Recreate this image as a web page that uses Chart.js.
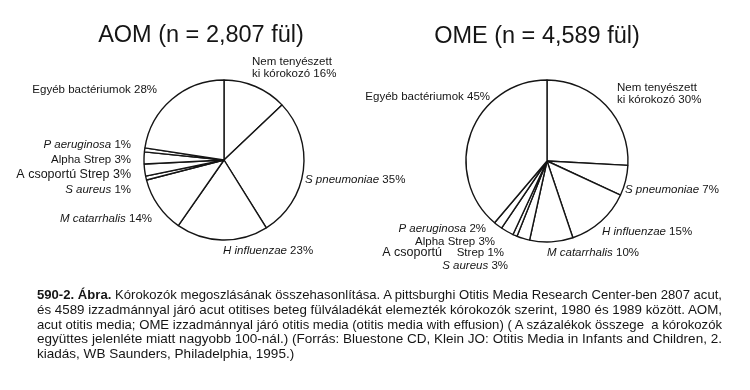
<!DOCTYPE html>
<html><head><meta charset="utf-8">
<script src="https://cdn.jsdelivr.net/npm/chart.js@4/dist/chart.umd.min.js"></script>
<style>
html,body{margin:0;padding:0;background:#fff;}
#wrap{position:relative;width:750px;height:390px;overflow:hidden;background:#fff;}
#wrap canvas{position:absolute;left:0;top:0;}
#caption{position:absolute;left:37px;top:288px;width:685px;font-family:"Liberation Sans",Arial,sans-serif;font-size:13.5px;line-height:14.8px;color:#151515;}
#caption .ln{height:14.8px;white-space:nowrap;}
#caption .ln span{display:inline-block;white-space:nowrap;transform-origin:0 50%;}
</style>
</head><body>
<div id="wrap">
<canvas id="aom" width="750" height="390"></canvas>
<canvas id="ome" width="750" height="390"></canvas>
<div id="caption">
<div class="ln"><span><b>590-2. Ábra.</b> Kórokozók megoszlásának összehasonlítása. A pittsburghi Otitis Media Research Center-ben 2807 acut,</span></div>
<div class="ln"><span>és 4589 izzadmánnyal járó acut otitises beteg fülváladékát elemezték kórokozók szerint, 1980 és 1989 között. AOM,</span></div>
<div class="ln"><span>acut otitis media; OME izzadmánnyal járó otitis media (otitis media with effusion) ( A százalékok összege&nbsp; a kórokozók</span></div>
<div class="ln"><span>együttes jelenléte miatt nagyobb 100-nál.) (Forrás: Bluestone CD, Klein JO: Otitis Media in Infants and Children, 2.</span></div>
<div class="ln last"><span>kiadás, WB Saunders, Philadelphia, 1995.)</span></div>
</div>
</div>
<script>
// ---- data ----
const aomTitle = 'AOM (n = 2,807 fül)';
const omeTitle = 'OME (n = 4,589 fül)';
const categories = ['Nem tenyészett\nki kórokozó', 'S pneumoniae', 'H influenzae', 'M catarrhalis', 'S aureus', 'A csoportú Strep', 'Alpha Strep', 'P aeruginosa', 'Egyéb bactériumok'];
const aomValues = [16, 35, 23, 14, 1, 3, 3, 1, 28];
const omeValues = [30, 7, 15, 10, 3, 1, 3, 2, 45];
const italicNames = ['S pneumoniae', 'H influenzae', 'M catarrhalis', 'S aureus', 'P aeruginosa'];

// ---- layout (positions relative to pie centre) ----
const FONT = '"Liberation Sans", Arial, Helvetica, sans-serif';
const INK = '#151515';
const aomLayout = {
  cx: 224, cy: 160, r: 80,
  title: {dx: -23, dy: -118},
  labels: [
    {dx: 28, dy: -98, align: 'left'},
    {dx: 81, dy: 20, align: 'left'},
    {dx: -1, dy: 91, align: 'left'},
    {dx: -72, dy: 59, align: 'right'},
    {dx: -93, dy: 30, align: 'right'},
    {dx: -93, dy: 14.5, align: 'right', big: true},
    {dx: -93, dy: 0, align: 'right'},
    {dx: -93, dy: -15, align: 'right'},
    {dx: -67, dy: -70, align: 'right'}
  ]
};
const omeLayout = {
  cx: 547, cy: 161, r: 81,
  title: {dx: -10, dy: -118},
  labels: [
    {dx: 70, dy: -73, align: 'left'},
    {dx: 78, dy: 29, align: 'left'},
    {dx: 55, dy: 71, align: 'left'},
    {dx: 0, dy: 92, align: 'left'},
    {dx: -39, dy: 105, align: 'right'},
    {dx: -43, dy: 92, align: 'right', splitX: -105},
    {dx: -52, dy: 81, align: 'right'},
    {dx: -61, dy: 68, align: 'right'},
    {dx: -57, dy: -64, align: 'right'}
  ]
};

function drawParts(ctx, parts, x, y, align) {
  const widths = parts.map(p => { ctx.font = p.font; return ctx.measureText(p.t).width; });
  const total = widths.reduce((a, b) => a + b, 0);
  let sx = align === 'right' ? x - total : x;
  parts.forEach((p, i) => { ctx.font = p.font; ctx.fillText(p.t, sx, y); sx += widths[i]; });
}

const labelPlugin = {
  id: 'pieLabels',
  afterDraw(chart) {
    const o = chart.options.plugins.pieLabels;
    const arc = chart.getDatasetMeta(0).data[0];
    const cx = arc.x, cy = arc.y;
    const ctx = chart.ctx;
    ctx.save();
    ctx.fillStyle = INK;
    ctx.textBaseline = 'alphabetic';
    ctx.textAlign = 'center';
    ctx.font = '23.5px ' + FONT;
    ctx.fillText(o.title, cx + o.layout.title.dx, cy + o.layout.title.dy);
    ctx.textAlign = 'left';
    ctx.textBaseline = 'middle';
    const vals = chart.data.datasets[0].data;
    chart.data.labels.forEach((name, i) => {
      const L = o.layout.labels[i];
      const size = L.big ? 12.5 : 11.5;
      const up = size + 'px ' + FONT;
      const it = 'italic ' + size + 'px ' + FONT;
      const pct = ' ' + vals[i] + '%';
      const lines = name.split('\n');
      const x = cx + L.dx, y = cy + L.dy;
      if (lines.length > 1) {
        drawParts(ctx, [{t: lines[0], font: up}], x, y, L.align);
        drawParts(ctx, [{t: lines[1], font: up}, {t: pct, font: up}], x, y + 12, L.align);
      } else if (L.splitX !== undefined) {
        const k = name.lastIndexOf(' ');
        drawParts(ctx, [{t: name.slice(0, k), font: '12.5px ' + FONT}], cx + L.splitX, y, 'right');
        drawParts(ctx, [{t: name.slice(k + 1), font: up}, {t: pct, font: up}], x, y, L.align);
      } else {
        const isIt = italicNames.includes(name);
        drawParts(ctx, [{t: name, font: isIt ? it : up}, {t: pct, font: up}], x, y, L.align);
      }
    });
    ctx.restore();
  }
};

function makePie(id, values, title, layout) {
  const bw = 1.4;
  const half = layout.r + bw / 2;
  new Chart(document.getElementById(id), {
    type: 'pie',
    data: {
      labels: categories,
      datasets: [{
        data: values,
        backgroundColor: '#ffffff',
        borderColor: INK,
        borderWidth: bw,
        hoverBorderWidth: bw,
        hoverOffset: 0,
        borderAlign: 'center'
      }]
    },
    options: {
      responsive: false,
      animation: false,
      devicePixelRatio: 1,
      events: [],
      rotation: 0,
      layout: {padding: {
        left: layout.cx - half, top: layout.cy - half,
        right: 750 - (layout.cx + half), bottom: 390 - (layout.cy + half)
      }},
      plugins: {
        legend: {display: false},
        tooltip: {enabled: false},
        title: {display: false},
        pieLabels: {title: title, layout: layout}
      }
    },
    plugins: [labelPlugin]
  });
}

makePie('aom', aomValues, aomTitle, aomLayout);
makePie('ome', omeValues, omeTitle, omeLayout);

// fit caption lines to the justified column width
(function () {
  const target = 685;
  const spans = Array.from(document.querySelectorAll('#caption .ln span'));
  let lastScale = 1;
  spans.forEach((s, i) => {
    const w = s.getBoundingClientRect().width;
    let k = target / w;
    if (s.parentNode.classList.contains('last')) k = lastScale;
    s.style.transform = 'scaleX(' + k.toFixed(4) + ')';
    lastScale = k;
  });
})();
</script>
</body></html>
